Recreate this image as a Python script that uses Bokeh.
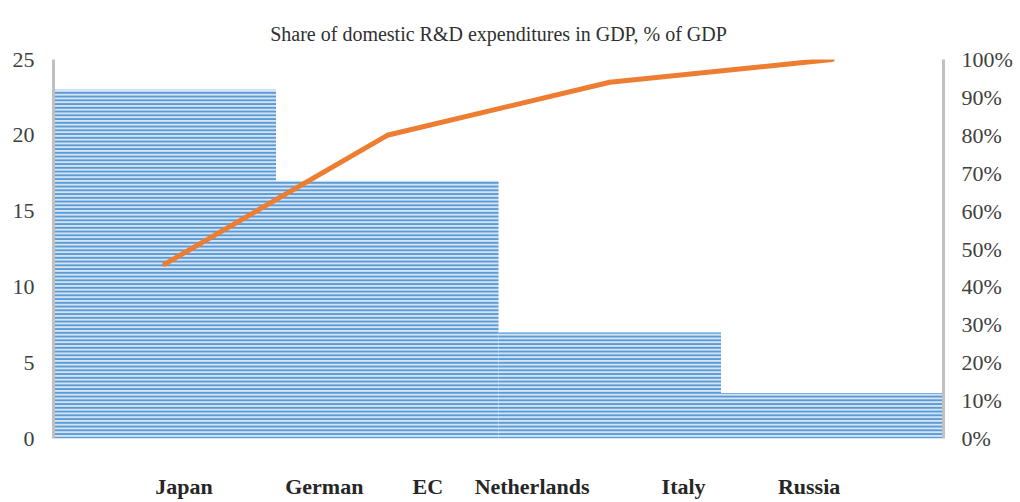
from bokeh.plotting import figure
from bokeh.models import Range1d, LinearAxis, FixedTicker, NumeralTickFormatter, ColumnDataSource
from bokeh.embed import file_html
from bokeh.resources import INLINE

# ---- data ----
bin_labels = ["Japan", "German", "EC", "Netherlands", "Italy", "Russia"]
label_pos = [0.586, 1.217, 1.682, 2.151, 2.832, 3.396]
bar_values = [23, 17, 7, 3]
cumulative_pct = [46, 80, 94, 100]
left_ticks = [0, 5, 10, 15, 20, 25]
right_ticks = [0, 10, 20, 30, 40, 50, 60, 70, 80, 90, 100]

n = len(bar_values)
lefts = list(range(n))
rights = [i + 1 for i in lefts]
centers = [i + 0.5 for i in lefts]

FONT = "Liberation Serif"
TXT = "#404040"

p = figure(width=1020, height=502, output_backend="svg", toolbar_location=None,
           x_range=Range1d(0, n), y_range=Range1d(0, 25),
           min_border_left=53, min_border_right=77, min_border_top=59, min_border_bottom=64,
           title="Share of domestic R&D expenditures in GDP, % of GDP")
p.outline_line_color = None
p.grid.visible = False
p.background_fill_color = "white"
p.border_fill_color = "white"

p.title.align = "center"
p.title.text_font = FONT
p.title.text_font_size = "20px"
p.title.text_font_style = "normal"
p.title.text_color = "#303030"
p.title.offset = 0
p.title.standoff = 30

p.extra_y_ranges = {"pct": Range1d(0, 100)}

src = ColumnDataSource(dict(left=lefts, right=rights, top=bar_values, bottom=[0] * n))
p.quad(left="left", right="right", top="top", bottom="bottom", source=src,
       fill_color="#d6e5f4", line_color=None,
       hatch_pattern="-", hatch_color="#5b9bd5", hatch_weight=2.1, hatch_scale=3.75)

p.line(x=centers, y=cumulative_pct, y_range_name="pct", line_color="#ed7d31",
       line_width=5, line_cap="round", line_join="round")

# left axis
ya = p.yaxis[0]
ya.ticker = FixedTicker(ticks=left_ticks)
ya.axis_line_color = "#c0c0c0"
ya.axis_line_width = 3
ya.major_tick_line_color = None
ya.minor_tick_line_color = None
ya.major_label_text_font = FONT
ya.major_label_text_font_size = "22px"
ya.major_label_text_color = TXT
ya.major_label_standoff = 13

# right axis
ra = LinearAxis(y_range_name="pct", ticker=FixedTicker(ticks=right_ticks),
                formatter=NumeralTickFormatter(format="0"))
ra.major_label_overrides = {t: f"{t}%" for t in right_ticks}
ra.axis_line_color = "#c0c0c0"
ra.axis_line_width = 3
ra.major_tick_line_color = None
ra.minor_tick_line_color = None
ra.major_label_text_font = FONT
ra.major_label_text_font_size = "22px"
ra.major_label_text_color = TXT
ra.major_label_standoff = 12
p.add_layout(ra, "right")

# bottom axis
xa = p.xaxis[0]
xa.ticker = FixedTicker(ticks=label_pos)
xa.major_label_overrides = {pos: lab for pos, lab in zip(label_pos, bin_labels)}
xa.axis_line_color = None
xa.major_tick_line_color = None
xa.minor_tick_line_color = None
xa.major_label_text_font = FONT
xa.major_label_text_font_size = "22px"
xa.major_label_text_font_style = "bold"
xa.major_label_text_color = "#262626"
xa.major_label_standoff = 29

open("out.html", "w").write(file_html(p, INLINE))
